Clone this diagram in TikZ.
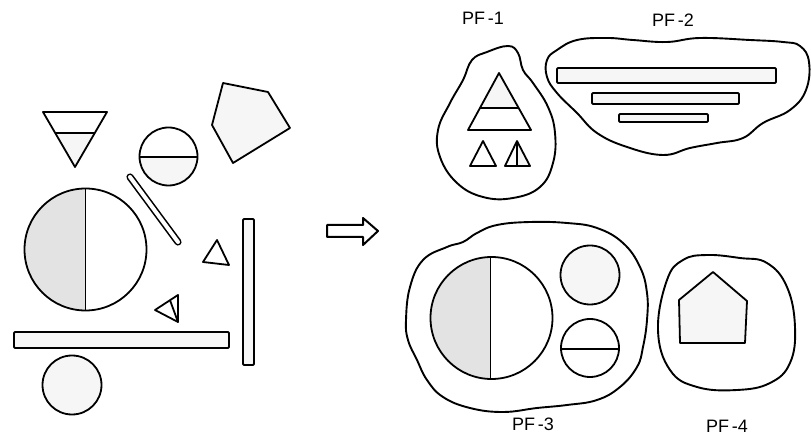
\documentclass[tikz,border=0pt]{standalone}
\usepackage{fontspec}
\setsansfont{Liberation Sans}
\begin{document}
\begin{tikzpicture}[x=1pt, y=-1pt, line width=1.8pt, line join=round]
\tikzset{
  dotfill/.style={fill=gray!22},
  faint/.style={fill=gray!7},
  blob/.style={draw, line width=1.9pt, smooth cycle, tension=0.7},
  bar/.style={draw, faint, rounded corners=1pt},
  lbl/.style={font=\sffamily\fontsize{18}{18}\selectfont, inner sep=0pt}
}
\useasboundingbox (0,0) rectangle (811,435);

% loose pieces
\fill[faint] (55.2,133) -- (94.8,133) -- (75,167) -- cycle;
\draw (43,112) -- (107,112) -- (75,167) -- cycle;
\draw (55.2,133) -- (94.8,133);

\begin{scope}
  \clip (138,157) rectangle (199,187);
  \fill[faint] (168.5,156.5) circle[radius=29pt];
\end{scope}
\draw (168.5,156.5) circle[radius=29pt];
\draw (139.5,157) -- (197.5,157);

\draw[faint] (223,83) -- (268,92) -- (290,128) -- (233,163) -- (212,125) -- cycle;

\draw[double=white, double distance=4pt, line width=1.6pt, line cap=round] (130,177) -- (178,242);

\begin{scope}
  \clip (20,185) rectangle (85.5,315);
  \fill[dotfill] (85.5,249.5) circle[radius=61pt];
\end{scope}
\draw (85.5,249.5) circle[radius=61pt];
\draw (85.5,188.5) -- (85.5,310.5);

\draw (217,240) -- (203,262) -- (229,265) -- cycle;
\draw (178,295) -- (155,310) -- (178,322) -- cycle;
\draw (170,300.2) -- (178,322);

\draw[bar] (243,219) rectangle (254,365);
\draw[bar] (14,332) rectangle (229,348);
\draw[faint] (72,385) circle[radius=29.5pt];

% arrow
\draw[line width=2pt] (327,225) -- (363,225) -- (363,218) -- (378,231) -- (363,245) -- (363,237) -- (327,237) -- cycle;

% PF-1
\draw[blob] plot coordinates {(508,46) (518,53) (523,70) (533,83) (548,107) (555,133) (553,163) (540,187) (513,198) (483,197) (457,183) (440,157) (438,130) (450,103) (463,80) (472,60) (487,52)};
\fill[faint] (480,108) -- (518,108) -- (499,73) -- cycle;
\draw (499,73) -- (468,130) -- (531,130) -- cycle;
\draw (480,108) -- (518,108);
\draw (483,141) -- (470,166) -- (496,166) -- cycle;
\fill[faint] (517,141) -- (517,166) -- (530,166) -- cycle;
\draw (517,141) -- (505,166) -- (530,166) -- cycle;
\draw (517,141) -- (517,166);
\node[lbl] (pf1) at (483,18) {PF\,-1};

% PF-2
\draw[blob] plot coordinates {(557,50) (577,40) (607,38) (633,40) (667,42) (700,38) (750,40) (783,42) (800,46) (809,62) (806,90) (790,110) (763,123) (743,138) (717,143) (690,148) (663,155) (627,147) (597,133) (577,113) (557,93) (547,77) (547,60)};
\draw[bar] (557,68) rectangle (776,83);
\draw[bar] (592,93) rectangle (739,104);
\draw[bar] (619,114) rectangle (708,122);
\node[lbl] (pf2) at (673,20) {PF\,-2};

% PF-3
\draw[blob] plot coordinates {(406,320) (410,287) (423,260) (447,247) (463,242) (477,233) (497,225) (530,222) (567,223) (597,228) (623,243) (640,267) (647,293) (647,320) (643,347) (637,367) (620,387) (597,400) (567,405) (537,408) (503,412) (470,408) (443,397) (427,380) (417,360) (408,340)};
\begin{scope}
  \clip (425,252) rectangle (490.5,385);
  \fill[dotfill] (491.5,318) circle[radius=61pt];
\end{scope}
\draw (491.5,318) circle[radius=61pt];
\draw (490.5,257) -- (490.5,379);
\draw[faint] (590,275) circle[radius=29.5pt];
\draw (590,348) circle[radius=29pt];
\draw (561,349) -- (619,349);
\node[lbl] (pf3) at (533,424) {PF\,-3};

% PF-4
\draw[blob] plot coordinates {(658,330) (667,280) (683,260) (707,255) (740,258) (767,263) (787,287) (795,327) (790,363) (770,383) (737,390) (697,387) (670,370)};
\draw[faint] (713,272) -- (747,301) -- (745,343) -- (680,343) -- (679,300) -- cycle;
\node[lbl] (pf4) at (727,426) {PF\,-4};
\end{tikzpicture}
\end{document}
